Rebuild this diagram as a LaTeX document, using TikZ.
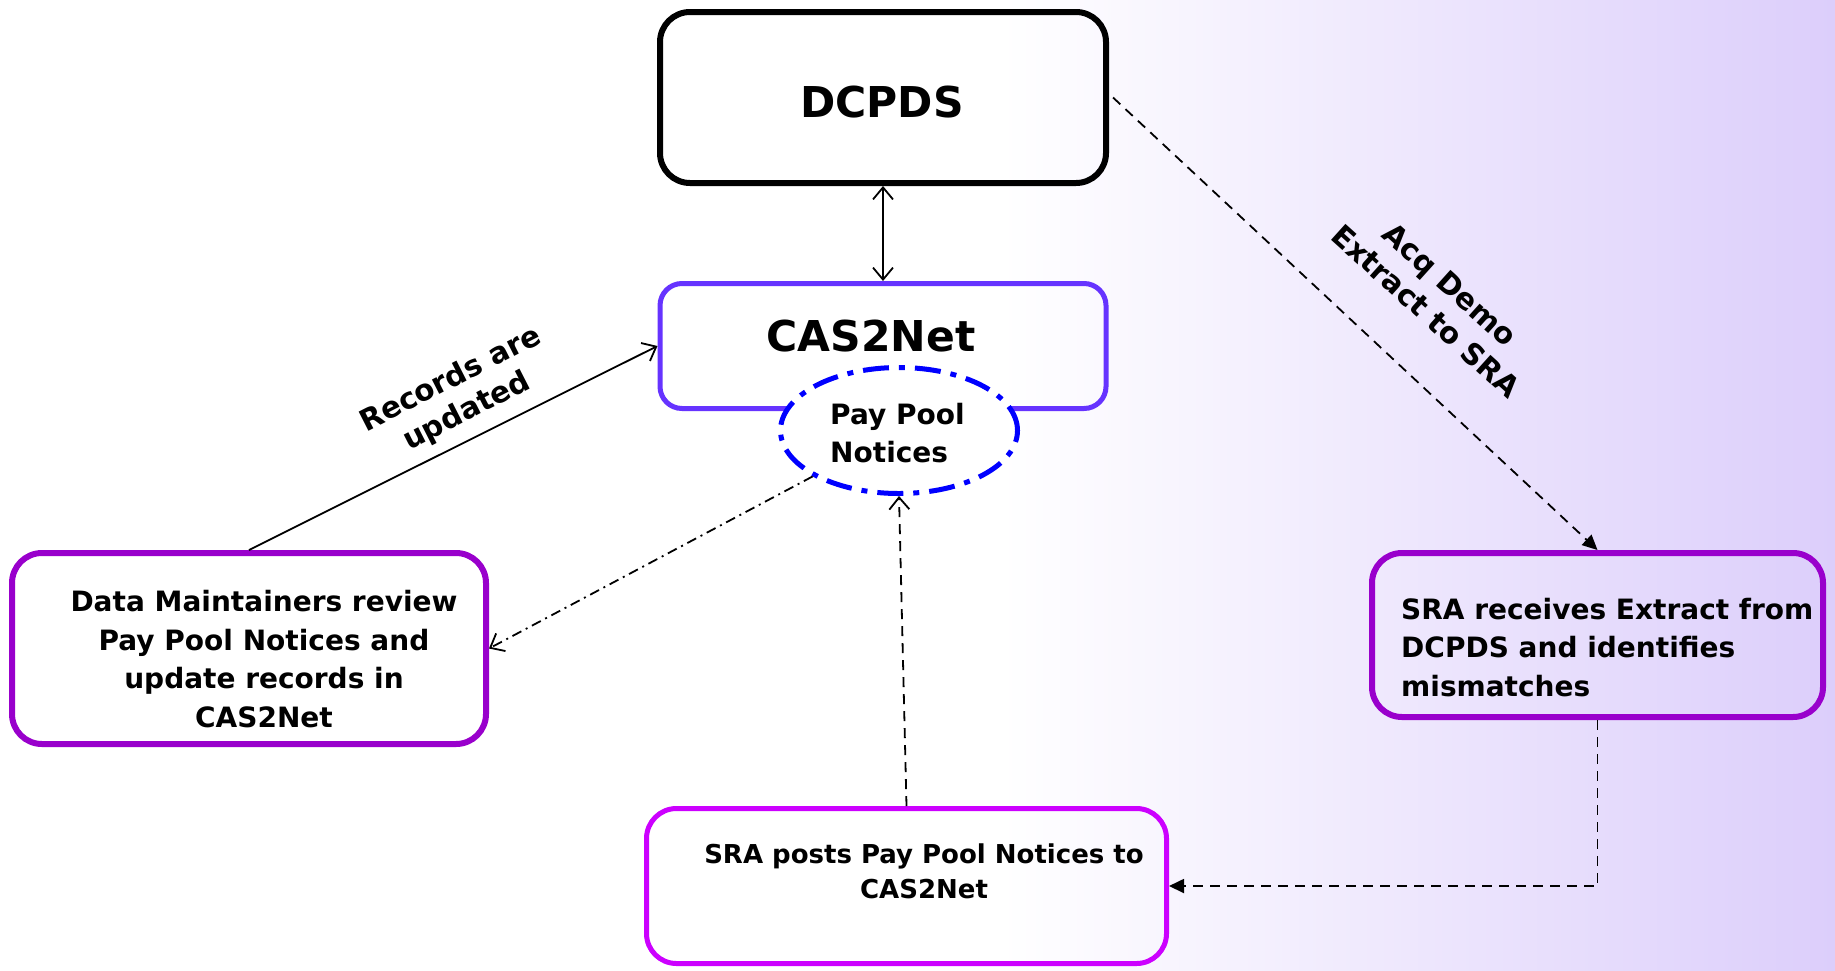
\documentclass[tikz,border=0pt]{standalone}
\usepackage{fontspec}
\setmainfont{DejaVu Sans}
\usetikzlibrary{arrows.meta,shapes.geometric}
\definecolor{casc}{RGB}{102,51,255}
\definecolor{purp}{RGB}{153,0,204}
\definecolor{magc}{RGB}{204,0,255}
\definecolor{bgend}{RGB}{220,206,251}
\definecolor{ellc}{RGB}{0,0,255}
\begin{document}
\begin{tikzpicture}[x=1pt,y=-1pt,
  box/.style={draw, rectangle, inner sep=0pt},
  bigtxt/.style={font=\fontsize{42.5}{50}\selectfont\bfseries, inner sep=0pt},
  txt/.style={font=\fontsize{28}{38.5}\selectfont\bfseries, align=center, inner sep=0pt},
  smtxt/.style={font=\fontsize{26}{35}\selectfont\bfseries, align=center, inner sep=0pt},
  lbl/.style={font=\fontsize{29.5}{36}\selectfont\bfseries, align=center, inner sep=0pt},
  conn/.style={line width=1.8pt},
  barb/.style={-{Straight Barb[length=12pt,width=20pt]}},
  tri/.style={-{Triangle[length=15pt,width=14pt]}},
  dsh/.style={dash pattern=on 10pt off 7pt},
]
\useasboundingbox (0,0) rectangle (1835,970);
\fill[white] (0,0) rectangle (1835,970);
\fill[left color=white, right color=bgend] (1000,0) rectangle (1835,970);

% boxes
\node[box, line width=6pt, rounded corners=30pt, minimum width=446pt, minimum height=171pt] (dc) at (883,97.5) {};
\node[bigtxt] (dctxt) at (882,102) {DCPDS};

\node[box, draw=casc, line width=5pt, rounded corners=22pt, minimum width=446pt, minimum height=125pt] (cas) at (883,346) {};
\node[bigtxt] (castxt) at (871,336) {CAS2Net};

\node[draw=ellc, fill=white, ellipse, line width=5pt, dash pattern=on 26pt off 10pt on 6pt off 10pt, minimum width=237pt, minimum height=126pt, inner sep=0pt] (pp) at (899,430.5) {};
\node[txt, align=left, anchor=west] (pptxt) at (830,433) {Pay Pool\\Notices};

\node[box, draw=purp, line width=6pt, rounded corners=30pt, minimum width=474pt, minimum height=191pt] (dm) at (249,648.5) {};
\node[txt] (dmtxt) at (264,659) {Data Maintainers review\\Pay Pool Notices and\\update records in\\CAS2Net};

\node[box, draw=purp, line width=6pt, rounded corners=30pt, minimum width=451pt, minimum height=164pt] (sr) at (1597.5,635) {};
\node[txt, align=left, anchor=west] (srtxt) at (1401,647.5) {SRA receives Extract from\\DCPDS and identifies\\mismatches};

\node[box, draw=magc, line width=5pt, rounded corners=30pt, minimum width=520pt, minimum height=155pt] (sp) at (906.5,886) {};
\node[smtxt] (sptxt) at (924,871.5) {SRA posts Pay Pool Notices to\\CAS2Net};

% connectors
\draw[conn, {Straight Barb[length=12pt,width=20pt]}-{Straight Barb[length=12pt,width=20pt]}] (dc.south) -- (cas.north);
\draw[conn, barb] (dm.north) -- (cas.west);
\draw[conn, barb, dash pattern=on 10pt off 5pt on 2pt off 5pt] (pp.208) -- (dm.east);
\draw[conn, barb, dsh] (sp.north) -- (pp.south);
\draw[conn, tri, dsh] ([xshift=4pt]dc.east) -- (sr.north);
\draw[conn, tri, dsh] (sr.south) |- (sp.east);

% labels
\node[lbl, rotate=27] (l1) at (459,396) {Records are\\updated};
\node[lbl, rotate=-42] (l2) at (1438,298) {Acq Demo\\Extract to SRA};
\end{tikzpicture}
\end{document}
